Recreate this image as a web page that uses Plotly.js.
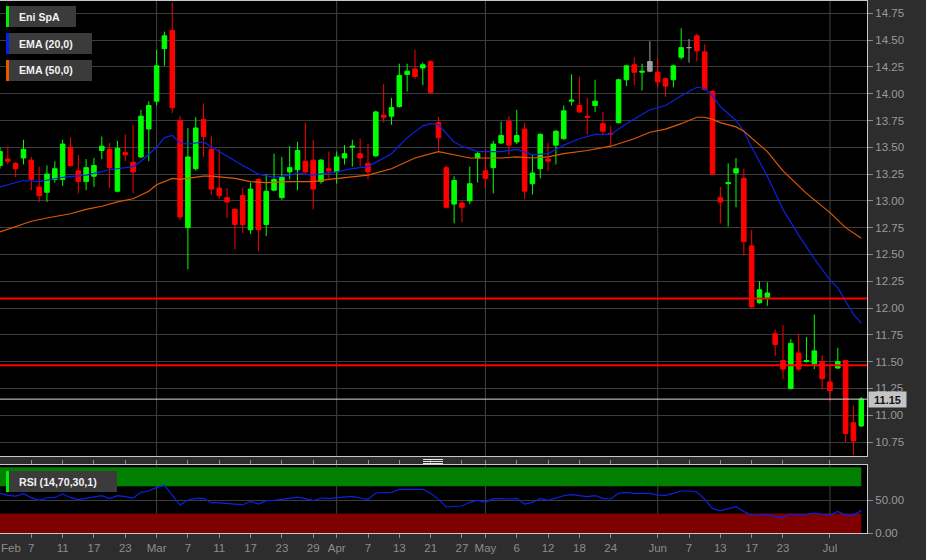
<!DOCTYPE html>
<html>
<head>
<meta charset="utf-8">
<script src="https://cdn.plot.ly/plotly-3.0.1.min.js"></script>
<style>
html,body{margin:0;padding:0;background:#2d2d2d;overflow:hidden;}
#chart{width:926px;height:560px;}
</style>
</head>
<body>
<div id="chart"></div>
<script>
// ---------------- DATA ----------------
const dates = [
 '2022-02-01','2022-02-02','2022-02-03','2022-02-04','2022-02-07','2022-02-08','2022-02-09','2022-02-10','2022-02-11',
 '2022-02-14','2022-02-15','2022-02-16','2022-02-17','2022-02-18','2022-02-21','2022-02-22','2022-02-23','2022-02-24','2022-02-25','2022-02-28',
 '2022-03-01','2022-03-02','2022-03-03','2022-03-04','2022-03-07','2022-03-08','2022-03-09','2022-03-10','2022-03-11',
 '2022-03-14','2022-03-15','2022-03-16','2022-03-17','2022-03-18','2022-03-21','2022-03-22','2022-03-23','2022-03-24','2022-03-25',
 '2022-03-28','2022-03-29','2022-03-30','2022-03-31',
 '2022-04-01','2022-04-04','2022-04-05','2022-04-06','2022-04-07','2022-04-08','2022-04-11','2022-04-12','2022-04-13','2022-04-14',
 '2022-04-19','2022-04-20','2022-04-21','2022-04-22','2022-04-25','2022-04-26','2022-04-27','2022-04-28','2022-04-29',
 '2022-05-02','2022-05-03','2022-05-04','2022-05-05','2022-05-06','2022-05-09','2022-05-10','2022-05-11','2022-05-12','2022-05-13',
 '2022-05-16','2022-05-17','2022-05-18','2022-05-19','2022-05-20','2022-05-23','2022-05-24','2022-05-25','2022-05-26','2022-05-27',
 '2022-05-30','2022-05-31',
 '2022-06-01','2022-06-02','2022-06-03','2022-06-06','2022-06-07','2022-06-08','2022-06-09','2022-06-10','2022-06-13','2022-06-14',
 '2022-06-15','2022-06-16','2022-06-17','2022-06-20','2022-06-21','2022-06-22','2022-06-23','2022-06-24','2022-06-27','2022-06-28',
 '2022-06-29','2022-06-30',
 '2022-07-01','2022-07-04','2022-07-05','2022-07-06','2022-07-07'
];

const openP = [
 13.33,13.39,13.35,13.40,13.38,13.13,13.08,13.20,13.20,
 13.50,13.28,13.18,13.23,13.47,13.48,13.09,13.45,13.36,13.41,13.67,
 13.93,14.42,14.59,13.75,12.75,13.30,13.76,13.48,13.12,
 13.03,12.92,13.05,12.73,13.20,12.78,13.10,13.03,13.27,13.29,
 13.37,13.38,13.18,13.30,
 13.27,13.40,13.50,13.44,13.35,13.42,13.80,13.79,13.88,14.18,
 14.23,14.24,14.30,13.73,13.31,12.97,12.98,13.00,13.40,
 13.28,13.31,13.54,13.74,13.55,13.67,13.16,13.30,13.39,13.52,
 13.58,13.93,13.89,13.79,13.89,13.72,13.63,13.73,14.13,14.27,
 14.20,14.30,
 14.20,14.14,14.13,14.34,14.43,14.54,14.39,14.02,13.03,13.16,
 13.26,13.21,12.58,12.05,12.10,11.76,11.51,11.25,11.58,11.50,
 11.48,11.50,
 11.31,11.44,11.51,10.93,10.90
];
const highP = [
 13.50,13.51,13.36,13.57,13.41,13.32,13.33,13.37,13.57,
 13.59,13.43,13.39,13.40,13.60,13.54,13.56,13.62,13.71,13.85,13.93,
 14.41,14.58,14.85,13.79,13.68,13.78,13.91,13.60,13.48,
 13.12,12.93,13.12,13.17,13.21,13.25,13.44,13.41,13.51,13.55,
 13.73,13.57,13.39,13.46,
 13.46,13.52,13.57,13.58,13.53,13.84,14.09,13.96,14.28,14.28,
 14.41,14.29,14.31,13.78,13.33,13.23,13.00,13.32,13.46,
 13.47,13.56,13.74,13.79,13.85,13.73,13.43,13.63,13.54,13.66,
 13.89,14.18,14.16,13.96,14.13,13.83,13.70,14.14,14.27,14.34,
 14.28,14.49,
 14.33,14.15,14.27,14.61,14.51,14.56,14.46,14.03,13.13,13.35,
 13.40,13.30,12.73,12.25,12.24,11.80,11.84,11.71,11.76,11.73,
 11.94,11.56,
 11.46,11.63,11.52,11.09,11.17
];
const lowP = [
 13.30,13.34,13.22,13.34,13.10,12.99,12.99,13.17,13.14,
 13.32,13.07,13.10,13.13,13.39,13.12,13.08,13.37,13.07,13.40,13.37,
 13.89,14.26,13.82,12.82,12.36,13.28,13.41,13.06,13.02,
 12.84,12.55,12.70,12.69,12.53,12.67,13.09,13.01,13.20,13.10,
 13.26,12.92,13.16,13.21,
 13.16,13.34,13.32,13.32,13.20,13.41,13.73,13.71,13.87,14.02,
 14.14,14.08,14.00,13.47,12.93,12.79,12.80,12.97,13.17,
 13.12,13.07,13.53,13.43,13.53,13.02,13.06,13.21,13.28,13.34,
 13.57,13.89,13.82,13.62,13.83,13.61,13.51,13.72,14.07,14.08,
 14.03,14.20,
 14.06,13.97,14.06,14.32,14.29,14.30,14.03,13.24,12.79,12.76,
 12.94,12.49,12.00,12.04,12.02,11.55,11.34,11.24,11.41,11.49,
 11.43,11.24,
 11.13,11.43,10.75,10.63,10.89
];
const closeP = [
 13.46,13.37,13.30,13.48,13.20,13.05,13.25,13.30,13.53,
 13.33,13.18,13.31,13.33,13.51,13.31,13.49,13.43,13.27,13.79,13.89,
 14.26,14.54,13.87,12.85,13.41,13.68,13.60,13.11,13.05,
 12.99,12.78,12.78,13.11,12.73,13.09,13.20,13.22,13.31,13.47,
 13.27,13.11,13.38,13.28,
 13.41,13.44,13.51,13.40,13.27,13.83,13.78,13.87,14.17,14.21,
 14.16,14.27,14.01,13.59,12.94,13.19,12.94,13.16,13.44,
 13.21,13.53,13.61,13.52,13.61,13.09,13.26,13.62,13.37,13.65,
 13.84,13.94,13.83,13.78,13.93,13.65,13.62,14.13,14.26,14.20,
 14.21,14.21,
 14.11,14.07,14.26,14.43,14.43,14.40,14.04,13.25,12.99,13.17,
 13.30,12.62,12.01,12.17,12.14,11.66,11.43,11.67,11.43,11.51,
 11.60,11.34,
 11.23,11.50,10.83,10.76,11.15
];
// candles drawn in neutral grey (close unchanged)
const greyDays = ['2022-05-31','2022-06-07'];

// EMA(20)
const ema20Days = ['2022-02-01','2022-02-03','2022-02-04','2022-02-08','2022-02-11','2022-02-16','2022-02-21','2022-02-24','2022-02-25',
 '2022-03-01','2022-03-02','2022-03-03','2022-03-04','2022-03-07','2022-03-09','2022-03-11','2022-03-15','2022-03-16','2022-03-18',
 '2022-03-22','2022-03-24','2022-03-25','2022-03-29','2022-03-31','2022-04-01','2022-04-05','2022-04-07','2022-04-12','2022-04-14',
 '2022-04-20','2022-04-21','2022-04-22','2022-04-25','2022-04-26','2022-04-27','2022-04-29','2022-05-04','2022-05-06','2022-05-10',
 '2022-05-12','2022-05-16','2022-05-18','2022-05-20','2022-05-24','2022-05-26','2022-05-31','2022-06-02','2022-06-06','2022-06-08',
 '2022-06-09','2022-06-10','2022-06-13','2022-06-15','2022-06-16','2022-06-17','2022-06-21','2022-06-23','2022-06-27','2022-06-29',
 '2022-07-01','2022-07-04','2022-07-05','2022-07-06','2022-07-07'];
const ema20 = [13.13,13.17,13.19,13.18,13.22,13.24,13.29,13.32,13.37,
 13.50,13.59,13.61,13.54,13.53,13.55,13.46,13.37,13.33,13.25,
 13.22,13.24,13.26,13.24,13.26,13.27,13.30,13.32,13.44,13.59,
 13.70,13.72,13.71,13.63,13.55,13.51,13.46,13.46,13.48,13.43,
 13.44,13.52,13.58,13.62,13.62,13.72,13.85,13.89,13.98,14.06,
 14.05,13.98,13.88,13.75,13.65,13.50,13.23,12.92,12.68,12.46,
 12.26,12.19,12.06,11.94,11.86];

// EMA(50)
const ema50Days = ['2022-02-01','2022-02-04','2022-02-07','2022-02-09','2022-02-14','2022-02-16','2022-02-18','2022-02-22','2022-02-24',
 '2022-02-28','2022-03-01','2022-03-03','2022-03-04','2022-03-09','2022-03-10','2022-03-15','2022-03-17','2022-03-21','2022-03-24',
 '2022-03-29','2022-03-31','2022-04-07','2022-04-12','2022-04-19','2022-04-22','2022-04-26','2022-04-28','2022-05-04','2022-05-06',
 '2022-05-10','2022-05-12','2022-05-16','2022-05-19','2022-05-24','2022-05-27','2022-05-31','2022-06-02','2022-06-06','2022-06-08',
 '2022-06-09','2022-06-10','2022-06-13','2022-06-15','2022-06-16','2022-06-21','2022-06-23','2022-06-28','2022-07-01','2022-07-05',
 '2022-07-07'];
const ema50 = [12.71,12.79,12.81,12.84,12.88,12.92,12.95,12.99,13.02,
 13.09,13.15,13.21,13.20,13.23,13.23,13.21,13.18,13.17,13.18,
 13.18,13.20,13.24,13.30,13.40,13.46,13.43,13.40,13.40,13.41,
 13.40,13.41,13.44,13.47,13.51,13.58,13.64,13.67,13.72,13.78,
 13.78,13.76,13.73,13.69,13.65,13.46,13.28,13.07,12.89,12.75,
 12.65];

// RSI(14), one value per trading day
const rsi = [
 60.7,57.5,56.5,60.1,54.0,50.0,53.9,54.4,59.6,
 54.4,51.0,53.0,54.4,57.0,52.5,57.0,55.5,53.5,62.2,64.2,
 69.8,72.9,58.0,42.8,50.5,53.0,53.0,46.4,46.0,
 45.5,44.3,43.3,48.4,44.3,49.4,49.9,51.4,53.0,55.0,
 52.5,49.4,53.5,52.5,
 54.0,55.0,56.0,53.5,51.4,61.2,61.2,62.2,66.8,66.8,
 65.7,66.8,60.7,51.4,39.8,40.7,41.3,46.9,50.0,
 46.9,52.5,52.5,52.0,53.0,44.3,46.9,53.0,50.0,54.0,
 57.0,58.6,56.6,55.5,57.0,53.0,52.0,60.7,62.2,60.7,
 60.7,60.7,
 58.0,57.6,60.7,64.2,64.2,62.7,51.9,37.2,34.1,37.2,
 40.2,33.0,27.0,27.5,28.5,24.9,23.4,29.0,27.5,28.5,
 30.6,28.5,
 27.5,33.0,27.0,27.0,34.6
];
const rsiUpper = [71.5, 100.5];
const rsiLower = [0, 30];

// horizontal levels
const levels = [12.09, 11.465];
const priceTicks = [10.75,11.00,11.25,11.50,11.75,12.00,12.25,12.50,12.75,13.00,13.25,13.50,13.75,14.00,14.25,14.50,14.75];
const rsiTicks = [0, 50];

const tickDates = ['2022-02-07','2022-02-11','2022-02-17','2022-02-23','2022-03-01','2022-03-07','2022-03-11','2022-03-17','2022-03-23','2022-03-29',
 '2022-04-01','2022-04-07','2022-04-13','2022-04-21','2022-04-27','2022-05-02','2022-05-06','2022-05-12','2022-05-18','2022-05-24',
 '2022-06-01','2022-06-07','2022-06-13','2022-06-17','2022-06-23','2022-07-01'];
const tickText = ['7','11','17','23','Mar','7','11','17','23','29','Apr','7','13','21','27','May','6','12','18','24','Jun','7','13','17','23','Jul'];
const firstMonthLabel = 'Feb';
const monthStarts = ['2022-03-01','2022-04-01','2022-05-02','2022-06-01','2022-07-01'];

const legendItems = ['Eni SpA', 'EMA (20,0)', 'EMA (50,0)'];
const rsiLabel = 'RSI (14,70,30,1)';

// ---------------- STYLE / LAYOUT ----------------
const W = 926, H = 560, ML = 0, MR = 59, MT = 1, MB = 27;
const PW = W - ML - MR, PH = H - MT - MB;
const fx = px => (px - ML) / PW;
const fy = py => (H - MB - py) / PH;

const UP = '#00ff00', DOWN = '#ff0000', GREY = '#a0a0a0';
const FONT = 'Liberation Sans, Arial, sans-serif';

// split candles into normal / grey
const nIdx = [], gIdx = [];
dates.forEach((d, i) => (greyDays.includes(d) ? gIdx : nIdx).push(i));
const pick = (arr, idx) => idx.map(i => arr[i]);

const traces = [
  {type:'scatter', mode:'lines', x: ema20Days, y: ema20, xaxis:'x', yaxis:'y',
   line:{color:'#0a22e6', width:1.2}, hoverinfo:'skip'},
  {type:'scatter', mode:'lines', x: ema50Days, y: ema50, xaxis:'x', yaxis:'y',
   line:{color:'#e05a00', width:1.2}, hoverinfo:'skip'},
  {type:'candlestick', x: pick(dates,nIdx), open: pick(openP,nIdx), high: pick(highP,nIdx),
   low: pick(lowP,nIdx), close: pick(closeP,nIdx), xaxis:'x', yaxis:'y', whiskerwidth:0,
   increasing:{line:{color:UP, width:1}, fillcolor:UP},
   decreasing:{line:{color:DOWN, width:1}, fillcolor:DOWN}, hoverinfo:'skip'},
  {type:'candlestick', x: pick(dates,gIdx), open: pick(openP,gIdx), high: pick(highP,gIdx),
   low: pick(lowP,gIdx), close: pick(closeP,gIdx), xaxis:'x', yaxis:'y', whiskerwidth:0,
   increasing:{line:{color:GREY, width:1}, fillcolor:GREY},
   decreasing:{line:{color:GREY, width:1}, fillcolor:GREY}, hoverinfo:'skip'},
  {type:'scatter', mode:'lines', x: dates, y: rsi, xaxis:'x', yaxis:'y2',
   line:{color:'#0a22e6', width:1.2}, hoverinfo:'skip'}
];

const shapes = [];
// RSI bands
shapes.push({type:'rect', xref:'x', yref:'y2', x0:dates[0], x1:dates[dates.length-1], y0:rsiUpper[0], y1:rsiUpper[1],
  fillcolor:'#007f00', line:{width:0}, layer:'below'});
shapes.push({type:'rect', xref:'x', yref:'y2', x0:dates[0], x1:dates[dates.length-1], y0:rsiLower[0], y1:rsiLower[1],
  fillcolor:'#7f0000', line:{width:0}, layer:'below'});
// month grid lines
monthStarts.forEach(d => {
  shapes.push({type:'line', xref:'x', yref:'y domain', x0:d, x1:d, y0:0, y1:1, line:{color:'rgba(255,255,255,0.26)', width:1}, layer:'below'});
  shapes.push({type:'line', xref:'x', yref:'y2 domain', x0:d, x1:d, y0:0, y1:1, line:{color:'rgba(255,255,255,0.26)', width:1}, layer:'below'});
});
// level lines
levels.forEach(v => shapes.push({type:'line', xref:'paper', yref:'y', x0:0, x1:1, y0:v, y1:v, line:{color:'#ff0000', width:2}, layer:'above'}));
// last price line
const lastClose = closeP[closeP.length-1];
shapes.push({type:'line', xref:'paper', yref:'y', x0:0, x1:1, y0:lastClose, y1:lastClose, line:{color:'#d8d8d8', width:1}, layer:'above'});

// legend boxes
const legendColors = ['#00ee00', '#0022ee', '#e05a00'];
const legendBoxes = [[6,76,6,27],[6,92,33,54],[6,92,60,81]];
const annotations = [];
legendItems.forEach((t, k) => {
  const b = legendBoxes[k];
  shapes.push({type:'rect', xref:'paper', yref:'paper', x0:fx(b[0]), x1:fx(b[1]), y0:fy(b[3]), y1:fy(b[2]), fillcolor:'#3b3b3b', line:{width:0}, layer:'above'});
  shapes.push({type:'rect', xref:'paper', yref:'paper', x0:fx(b[0]), x1:fx(b[0]+3), y0:fy(b[3]), y1:fy(b[2]), fillcolor:legendColors[k], line:{width:0}, layer:'above'});
  annotations.push({xref:'paper', yref:'paper', x:fx(16.5), y:fy((b[2]+b[3])/2), xanchor:'left', yanchor:'middle', showarrow:false,
    text:'<b>' + t + '</b>', font:{family:FONT, size:10.6, color:'#f2f2f2'}});
});
// RSI label
shapes.push({type:'rect', xref:'paper', yref:'paper', x0:fx(6), x1:fx(117), y0:fy(492), y1:fy(471), fillcolor:'#3b3b3b', line:{width:0}, layer:'above'});
shapes.push({type:'rect', xref:'paper', yref:'paper', x0:fx(6), x1:fx(9), y0:fy(492), y1:fy(471), fillcolor:'#00ee00', line:{width:0}, layer:'above'});
annotations.push({xref:'paper', yref:'paper', x:fx(16.5), y:fy(481.5), xanchor:'left', yanchor:'middle', showarrow:false,
  text:'<b>' + rsiLabel + '</b>', font:{family:FONT, size:10.6, color:'#f2f2f2'}});
// drag handle
[459.5, 461.5, 463.5].forEach(y => shapes.push({type:'line', xref:'paper', yref:'paper', x0:fx(423), x1:fx(443), y0:fy(y), y1:fy(y), line:{color:'#e6e6e6', width:1}, layer:'above'}));
// first month label
annotations.push({xref:'paper', yref:'paper', x:0, y:fy(547.5), xanchor:'left', yanchor:'middle', showarrow:false,
  text:firstMonthLabel, font:{family:FONT, size:11.5, color:'#8c8c8c'}, borderpad:0});
// last price tag
annotations.push({xref:'paper', yref:'y', x:1, y:lastClose, xanchor:'left', yanchor:'middle', xshift:1, showarrow:false,
  text:'<b>' + lastClose.toFixed(2) + '</b>', font:{family:FONT, size:11, color:'#141414'}, bgcolor:'#c4c4c4',
  width:35, height:13, borderpad:1, align:'center'});

const axisLine = '#c6c6d2';
const layout = {
  width: W, height: H,
  margin: {l:ML, r:MR, t:MT, b:MB, pad:0},
  paper_bgcolor: '#2d2d2d', plot_bgcolor: '#000000',
  showlegend: false, hovermode: false, dragmode: false,
  boxgap: 0.42, boxgroupgap: 0,
  font: {family: FONT, size: 11.5, color: '#999999'},
  xaxis: {type:'category', categoryorder:'array', categoryarray:dates, range:[0, 110.73], anchor:'y2',
    tickmode:'array', tickvals:tickDates, ticktext:tickText, ticks:'outside', ticklen:4, tickcolor:'#8a8a8a',
    tickfont:{family:FONT, size:11.5, color:'#8c8c8c'}, showgrid:false, zeroline:false,
    showline:true, mirror:'all', linecolor:axisLine, linewidth:1, rangeslider:{visible:false}, fixedrange:true},
  yaxis: {domain:[(H-MB-456)/PH, 1], range:[10.6194, 14.8648], side:'right', anchor:'x',
    tickmode:'array', tickvals:priceTicks, tickformat:'.2f', ticks:'outside', ticklen:5, tickcolor:'#8a8a8a',
    tickfont:{family:FONT, size:11.5, color:'#9a9a9a'}, gridcolor:'#3c3c3c', gridwidth:1, zeroline:false,
    showline:true, mirror:'all', linecolor:axisLine, linewidth:1, fixedrange:true},
  yaxis2: {domain:[0, (H-MB-465)/PH], range:[0, 104], side:'right', anchor:'x',
    tickmode:'array', tickvals:rsiTicks, tickformat:'.2f', ticks:'outside', ticklen:5, tickcolor:'#8a8a8a',
    tickfont:{family:FONT, size:11.5, color:'#9a9a9a'}, gridcolor:'#3c3c3c', zeroline:false,
    showline:true, mirror:'all', linecolor:axisLine, linewidth:1, fixedrange:true},
  shapes: shapes,
  annotations: annotations
};

Plotly.newPlot('chart', traces, layout, {staticPlot:true, displayModeBar:false});
</script>
</body>
</html>
